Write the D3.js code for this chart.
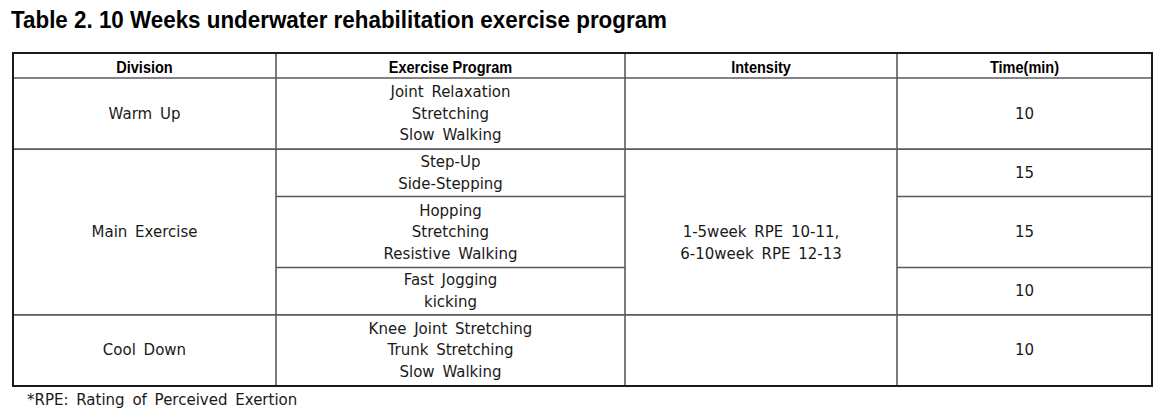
<!DOCTYPE html>
<html lang="en">
<head>
    <meta charset="UTF-8">
    <title>Table 2</title>
    <script src="https://d3js.org/d3.v7.min.js"></script>
    <style>
        body {
            margin: 0;
            padding: 0;
            background-color: #fff;
        }
        svg {
            display: block;
        }
        .title {
            font-family: "Liberation Sans", Arial, sans-serif;
            font-weight: bold;
            font-size: 24px;
            fill: #000;
        }
        .head {
            font-family: "Liberation Sans", Arial, sans-serif;
            font-weight: bold;
            font-size: 16.5px;
            fill: #000;
        }
        .cell, .note {
            font-family: "DejaVu Sans", sans-serif;
            font-size: 15px;
            word-spacing: 3px;
            fill: #1a1a1a;
        }
    </style>
</head>
<body>
    <svg width="1174" height="418"></svg>
    <script>
        // table content
        const titleText = "Table 2. 10 Weeks underwater rehabilitation exercise program";
        const columns = ["Division", "Exercise Program", "Intensity", "Time(min)"];
        const programs = [
            ["Joint Relaxation", "Stretching", "Slow Walking"],
            ["Step-Up", "Side-Stepping"],
            ["Hopping", "Stretching", "Resistive Walking"],
            ["Fast Jogging", "kicking"],
            ["Knee Joint Stretching", "Trunk Stretching", "Slow Walking"]
        ];
        const times = [10, 15, 15, 10, 10];
        // merged cells: [first row, number of rows, lines]
        const divisions = [
            [0, 1, ["Warm Up"]],
            [1, 3, ["Main Exercise"]],
            [4, 1, ["Cool Down"]]
        ];
        const intensity = [
            [0, 1, []],
            [1, 3, ["", "1-5week RPE 10-11,", "6-10week RPE 12-13"]],
            [4, 1, []]
        ];
        const footnote = "*RPE: Rating of Perceived Exertion";

        const svg = d3.select("svg");
        const colEdges = [13, 276, 625, 897, 1152];
        const headTop = 53, headBottom = 78, tableBottom = 386;
        const lineGap = 21.5;

        // row boundaries in "line units" (each row is as tall as its lines)
        const rowStart = [0];
        programs.forEach(p => rowStart.push(rowStart[rowStart.length - 1] + p.length));
        const y = d3.scaleLinear().domain([0, rowStart[rowStart.length - 1]]).range([headBottom, tableBottom]);
        const rowTop = r => y(rowStart[r]);
        const rowBot = r => y(rowStart[r + 1]);
        const colMid = c => (colEdges[c] + colEdges[c + 1]) / 2;

        svg.append("text")
           .attr("class", "title")
           .attr("x", 11)
           .attr("y", 28)
           .attr("textLength", 656)
           .attr("lengthAdjust", "spacingAndGlyphs")
           .text(titleText);

        // header (narrowed a bit, the original face is condensed)
        svg.selectAll(".head")
           .data(columns)
           .join("text")
           .attr("class", "head")
           .attr("x", (d, i) => colMid(i))
           .attr("y", (headTop + headBottom) / 2 + 1)
           .attr("text-anchor", "middle")
           .attr("dominant-baseline", "central")
           .text(d => d)
           .each(function() {
               const w = this.getComputedTextLength();
               d3.select(this)
                 .attr("textLength", w * 0.88)
                 .attr("lengthAdjust", "spacingAndGlyphs");
           });

        function cellLines(col, top, bottom, lines) {
            const mid = (top + bottom) / 2;
            lines.forEach((t, i) => {
                svg.append("text")
                   .attr("class", "cell")
                   .attr("x", colMid(col))
                   .attr("y", mid + (i - (lines.length - 1) / 2) * lineGap)
                   .attr("text-anchor", "middle")
                   .attr("dominant-baseline", "central")
                   .text(t);
            });
        }

        divisions.forEach(([r, n, lines]) => cellLines(0, rowTop(r), rowBot(r + n - 1), lines));
        programs.forEach((lines, r) => cellLines(1, rowTop(r), rowBot(r), lines));
        intensity.forEach(([r, n, lines]) => cellLines(2, rowTop(r), rowBot(r + n - 1), lines));
        times.forEach((t, r) => cellLines(3, rowTop(r), rowBot(r), [String(t)]));

        // grid lines
        const inner = svg.append("g").attr("stroke", "#5a5a5a").attr("stroke-width", 1.6);
        inner.append("line")
             .attr("x1", colEdges[0]).attr("x2", colEdges[4])
             .attr("y1", headBottom).attr("y2", headBottom);
        // horizontal row lines: full width at division boundaries, partial otherwise
        for (let r = 1; r < programs.length; r++) {
            const full = divisions.some(d => d[0] === r);
            const mergedInt = intensity.some(d => r > d[0] && r < d[0] + d[1]);
            const segs = full ? [[0, 4]] : mergedInt ? [[1, 2], [3, 4]] : [[1, 4]];
            segs.forEach(([a, b]) => {
                inner.append("line")
                     .attr("x1", colEdges[a]).attr("x2", colEdges[b])
                     .attr("y1", rowTop(r)).attr("y2", rowTop(r));
            });
        }
        colEdges.slice(1, 4).forEach(x => {
            inner.append("line")
                 .attr("x1", x).attr("x2", x)
                 .attr("y1", headTop).attr("y2", tableBottom);
        });

        svg.append("rect")
           .attr("x", colEdges[0])
           .attr("y", headTop)
           .attr("width", colEdges[4] - colEdges[0])
           .attr("height", tableBottom - headTop)
           .attr("fill", "none")
           .attr("stroke", "#1a1a1a")
           .attr("stroke-width", 2);

        svg.append("text")
           .attr("class", "note")
           .attr("x", 27)
           .attr("y", 400)
           .attr("dominant-baseline", "central")
           .text(footnote);
    </script>
</body>
</html>
